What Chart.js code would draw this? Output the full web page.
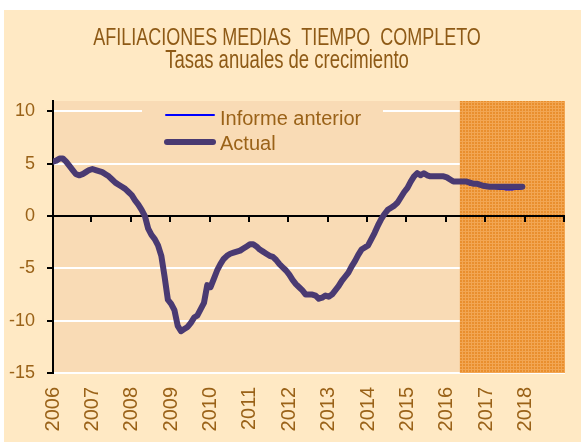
<!DOCTYPE html>
<html lang="es">
<head>
<meta charset="utf-8">
<title>Afiliaciones medias tiempo completo</title>
<script src="https://cdn.jsdelivr.net/npm/chart.js@4.4.1/dist/chart.umd.min.js"></script>
<style>
  body { margin: 0; background: #fff; }
  canvas { display: block; }
</style>
</head>
<body>
<canvas id="grafico" width="581" height="442"></canvas>
<script>
const titulo = "AFILIACIONES MEDIAS  TIEMPO  COMPLETO";
const subtitulo = "Tasas anuales de crecimiento";
const etiquetasAnios = ["2006", "2007", "2008", "2009", "2010", "2011", "2012", "2013", "2014", "2015", "2016", "2017", "2018"];
const marcasY = [-15, -10, -5, 0, 5, 10];
const anioInicio = 2006;
const inicioPrevision = 2016.33;
const nombresSeries = ["Informe anterior", "Actual"];

// tasas mensuales, de enero 2006 a diciembre 2017
const actual = [
    5.2, 5.3, 5.5, 5.5, 5.2, 4.8, 4.4, 4.0, 3.9, 4.0, 4.2, 4.4,
    4.5, 4.4, 4.3, 4.2, 4.0, 3.8, 3.5, 3.2, 3.0, 2.8, 2.6, 2.3,
    2.0, 1.5, 1.1, 0.6, 0.0, -1.2, -1.8, -2.2, -2.8, -3.8, -5.8, -8.0,
    -8.4, -9.0, -10.5, -11.0, -10.8, -10.6, -10.2, -9.7, -9.5, -8.9, -8.3, -6.6,
    -6.8, -6.0, -5.2, -4.6, -4.1, -3.8, -3.6, -3.5, -3.4, -3.3, -3.1, -2.9,
    -2.7, -2.7, -2.9, -3.2, -3.4, -3.6, -3.8, -3.9, -4.2, -4.6, -4.9, -5.2,
    -5.6, -6.1, -6.5, -6.8, -7.1, -7.5, -7.5, -7.5, -7.6, -7.9, -7.8, -7.6,
    -7.7, -7.5, -7.1, -6.7, -6.2, -5.8, -5.4, -4.8, -4.3, -3.7, -3.2, -3.0,
    -2.8, -2.2, -1.6, -0.9, -0.3, 0.2, 0.6, 0.8, 1.0, 1.3, 1.8, 2.3,
    2.7, 3.3, 3.8, 4.1, 3.9, 4.1, 3.9, 3.8, 3.8, 3.8, 3.8, 3.8,
    3.7, 3.5, 3.3, 3.3, 3.3, 3.3, 3.3, 3.2, 3.1, 3.1, 3.0, 2.9,
    2.85, 2.8, 2.8, 2.8, 2.8, 2.8, 2.8, 2.8, 2.8, 2.8, 2.8, 2.8
];

const informeAnterior = [
    5.2, 5.3, 5.5, 5.5, 5.2, 4.8, 4.4, 4.0, 3.9, 4.0, 4.2, 4.4,
    4.5, 4.4, 4.3, 4.2, 4.0, 3.8, 3.5, 3.2, 3.0, 2.8, 2.6, 2.3,
    2.0, 1.5, 1.1, 0.6, 0.0, -1.2, -1.8, -2.2, -2.8, -3.8, -5.8, -8.0,
    -8.4, -9.0, -10.5, -11.0, -10.8, -10.6, -10.2, -9.7, -9.5, -8.9, -8.3, -6.6,
    -6.8, -6.0, -5.2, -4.6, -4.1, -3.8, -3.6, -3.5, -3.4, -3.3, -3.1, -2.9,
    -2.7, -2.7, -2.9, -3.2, -3.4, -3.6, -3.8, -3.9, -4.2, -4.6, -4.9, -5.2,
    -5.6, -6.1, -6.5, -6.8, -7.1, -7.5, -7.5, -7.5, -7.6, -7.9, -7.8, -7.6,
    -7.7, -7.5, -7.1, -6.7, -6.2, -5.8, -5.4, -4.8, -4.3, -3.7, -3.2, -3.0,
    -2.8, -2.2, -1.6, -0.9, -0.3, 0.2, 0.6, 0.8, 1.0, 1.3, 1.8, 2.3,
    2.7, 3.3, 3.8, 4.1, 3.9, 4.1, 3.9, 3.8, 3.8, 3.8, 3.8, 3.8,
    3.7, 3.5, 3.3, 3.3, 3.3, 3.3, 3.2, 3.0, 3.0, 3.0, 2.9, 2.8,
    2.75, 2.7, 2.7, 2.65, 2.6, 2.6, 2.55, 2.55, 2.55, 2.6, 2.6, 2.65
];

const colorTexto = "#9A6218";
const colorFondo = "#FFE9C4";
const colorArea = "#F9DBB5";
const colorActual = "#4A3A72";
const colorAnterior = "#0000FF";

const aPuntos = serie => serie.map((v, i) => ({ x: anioInicio + i / 12, y: v }));

// trama naranja del periodo de prevision
function crearTrama() {
    const c = document.createElement("canvas");
    c.width = 3;
    c.height = 3;
    const g = c.getContext("2d");
    g.fillStyle = "#E98F2E";
    g.fillRect(0, 0, 3, 3);
    g.fillStyle = "#F2A653";
    g.fillRect(0, 0, 3, 1);
    g.fillRect(0, 0, 1, 3);
    return g.createPattern(c, "repeat");
}

const pluginFondo = {
    id: "fondo",
    beforeDraw(chart) {
        const { ctx, chartArea } = chart;
        ctx.save();
        ctx.fillStyle = "#fff";
        ctx.fillRect(0, 0, chart.width, chart.height);
        ctx.fillStyle = colorFondo;
        ctx.fillRect(4, 10, chart.width - 4, chart.height - 10);
        ctx.fillStyle = colorArea;
        ctx.fillRect(chartArea.left, chartArea.top, chartArea.right - chartArea.left, chartArea.bottom - chartArea.top);

        ctx.fillStyle = "#8E5A16";
        ctx.textAlign = "center";
        ctx.textBaseline = "alphabetic";
        ctx.translate(287, 45);
        ctx.scale(0.75, 1);
        ctx.font = '24px "Liberation Sans"';
        ctx.fillText(titulo, 0, 0);
        ctx.restore();

        ctx.save();
        ctx.fillStyle = "#8E5A16";
        ctx.textAlign = "center";
        ctx.translate(287, 68);
        ctx.scale(0.74, 1);
        ctx.font = '25px "Liberation Sans"';
        ctx.fillText(subtitulo, 0, 0);
        ctx.restore();
    }
};

const pluginPrevision = {
    id: "prevision",
    beforeDatasetsDraw(chart) {
        const { ctx, chartArea, scales } = chart;
        const x0 = scales.x.getPixelForValue(inicioPrevision);
        ctx.save();
        ctx.fillStyle = crearTrama();
        ctx.fillRect(x0, chartArea.top, chartArea.right - x0, chartArea.bottom - chartArea.top);

        // eje horizontal en el cero
        const y0 = scales.y.getPixelForValue(0);
        ctx.strokeStyle = "#000";
        ctx.lineWidth = 2;
        ctx.beginPath();
        ctx.moveTo(chartArea.left, y0);
        ctx.lineTo(chartArea.right, y0);
        for (let a = scales.x.min + 1; a <= scales.x.max; a++) {
            const px = Math.round(scales.x.getPixelForValue(a)) - 1;
            ctx.moveTo(px, y0);
            ctx.lineTo(px, y0 + 6);
        }
        ctx.stroke();
        ctx.restore();
    }
};

const pluginLeyenda = {
    id: "leyendaPropia",
    afterDatasetsDraw(chart) {
        const { ctx } = chart;
        ctx.save();
        ctx.fillStyle = colorArea;
        ctx.fillRect(142, 103, 241, 56);

        ctx.lineCap = "round";
        ctx.strokeStyle = colorAnterior;
        ctx.lineWidth = 2;
        ctx.beginPath();
        ctx.moveTo(166, 115);
        ctx.lineTo(214, 115);
        ctx.stroke();

        ctx.strokeStyle = colorActual;
        ctx.lineWidth = 6;
        ctx.beginPath();
        ctx.moveTo(167, 142);
        ctx.lineTo(213, 142);
        ctx.stroke();

        ctx.fillStyle = colorTexto;
        ctx.font = '20px "Liberation Sans"';
        ctx.textAlign = "left";
        ctx.textBaseline = "alphabetic";
        ctx.fillText(nombresSeries[0], 220, 125);
        ctx.fillText(nombresSeries[1], 220, 150);
        ctx.restore();
    }
};

const ctx = document.getElementById("grafico").getContext("2d");

new Chart(ctx, {
    type: "line",
    data: {
        datasets: [
            {
                label: nombresSeries[1],
                data: aPuntos(actual),
                borderColor: colorActual,
                borderWidth: 6,
                borderJoinStyle: "round",
                borderCapStyle: "round",
                pointRadius: 0,
                tension: 0,
                order: 0
            },
            {
                label: nombresSeries[0],
                data: aPuntos(informeAnterior),
                borderColor: colorAnterior,
                borderWidth: 2,
                pointRadius: 0,
                tension: 0,
                order: 1
            }
        ]
    },
    options: {
        responsive: false,
        animation: false,
        layout: { padding: { top: 101, right: 16, left: 0, bottom: 0 } },
        plugins: {
            legend: { display: false },
            title: { display: false },
            tooltip: { enabled: false }
        },
        scales: {
            x: {
                type: "linear",
                min: 2006,
                max: 2019,
                afterBuildTicks: scale => {
                    scale.ticks = etiquetasAnios.map(a => ({ value: Number(a) }));
                },
                afterFit: scale => { scale.height = 69; },
                grid: { display: false, drawTicks: false },
                border: { display: false },
                ticks: {
                    autoSkip: false,
                    minRotation: 90,
                    maxRotation: 90,
                    padding: 14,
                    color: colorTexto,
                    font: { family: "Liberation Sans", size: 20 },
                    callback: v => String(v)
                }
            },
            y: {
                min: -15,
                max: 11,
                afterBuildTicks: scale => {
                    scale.ticks = marcasY.map(v => ({ value: v }));
                },
                afterFit: scale => { scale.width = 53; },
                grid: {
                    color: "#FFFFFF",
                    lineWidth: 2,
                    tickColor: "#000",
                    tickLength: 6,
                    tickWidth: 2
                },
                border: { color: "#000", width: 2 },
                ticks: {
                    padding: 12,
                    color: colorTexto,
                    font: { family: "Liberation Sans", size: 18 }
                }
            }
        }
    },
    plugins: [pluginFondo, pluginPrevision, pluginLeyenda]
});
</script>
</body>
</html>
